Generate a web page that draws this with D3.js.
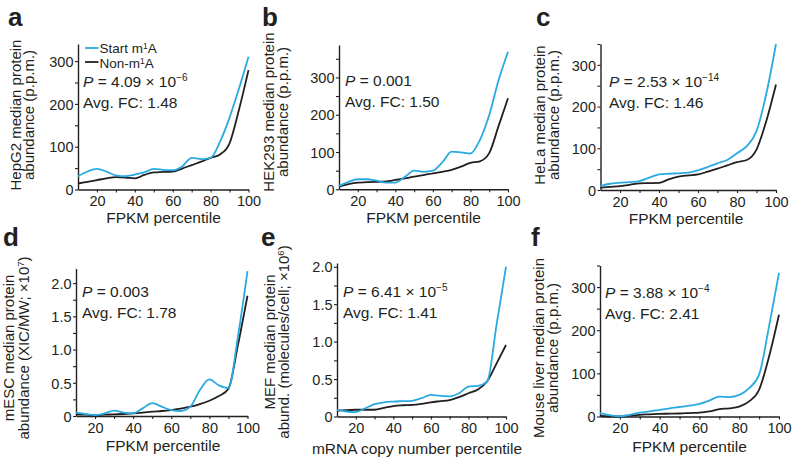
<!DOCTYPE html>
<html><head><meta charset="utf-8">
<script src="https://cdn.jsdelivr.net/npm/d3@7/dist/d3.min.js"></script>
<style>
body{margin:0;background:#fff}
svg{display:block}
text{font-family:"Liberation Sans",Arial,Helvetica,sans-serif;fill:#231f20}
</style>
</head><body>
<svg id="chart" width="800" height="466"></svg>
<script>
// ---------- DATA ----------
const percentiles = [10,15,20,25,30,35,40,45,50,55,60,65,70,75,80,85,90,95,100];

const hepg2Start = [31,42,48,42,33,31,35,40,48,46,45,54,74,71,74,112,168,236,310];
const hepg2Non   = [14,18,22,26,29,28,26,34,40,41,42,49,57,65,74,82,108,187,279];

const hek293Start = [9,20,27,27,23,18,18,33,50,47,50,72,101,99,96,132,199,293,369];
const hek293Non   = [7,14,18,19,20,21,25,29,34,38,43,47,52,61,71,75,97,170,244];

const helaStart = [9.5,15,17.5,19,21.5,29.5,37.5,39,40,41.5,47,55,64,72,88,105,141,230,350];
const helaNon   = [5.5,7.5,9.5,12.5,16,16.5,17,25.5,32,35,37.5,44,51,59,67,72,97,165,253];

const mescStart = [0.05,0.03,0.015,0.04,0.08,0.05,0.04,0.115,0.195,0.14,0.09,0.075,0.14,0.39,0.55,0.46,0.42,1.2,2.18];
const mescNon   = [0.025,0.02,0.015,0.02,0.025,0.03,0.04,0.05,0.065,0.075,0.09,0.11,0.14,0.18,0.23,0.30,0.41,1.07,1.81];

const mefStart = [0.09,0.067,0.058,0.11,0.165,0.19,0.20,0.205,0.21,0.245,0.29,0.275,0.27,0.31,0.40,0.41,0.47,1.23,2.0];
const mefNon   = [0.08,0.085,0.09,0.09,0.09,0.115,0.14,0.15,0.155,0.17,0.19,0.205,0.22,0.26,0.31,0.36,0.47,0.71,0.955];

const liverStart = [7.7,3,0.5,4,9,12,15.5,19,22,25,29,37,46,45,50,66,97,209,333];
const liverNon   = [1.5,0.5,0,2,4,5,6,6.5,7,8,9,12,17,19,23,35,62,139,236];

const panelLetters = ["a","b","c","d","e","f"];
const yTitles = [
  ["HepG2 median protein", "abundance (p.p.m.)"],
  ["HEK293 median protein", "abundance (p.p.m.)"],
  ["HeLa median protein", "abundance (p.p.m.)"],
  ["mESC median protein", "abundance (XIC/MW; ×10|7|)"],
  ["MEF median protein", "abund. (molecules/cell; ×10|6|)"],
  ["Mouse liver median protein", "abundance (p.p.m.)"]
];
const xTitles = ["FPKM percentile","FPKM percentile","FPKM percentile","FPKM percentile","mRNA copy number percentile","FPKM percentile"];
const pValues = [["4.09 × 10","−6"],["0.001",""],["2.53 × 10","−14"],["0.003",""],["6.41 × 10","−5"],["3.88 × 10","−4"]];
const avgFC = ["1.48","1.50","1.46","1.78","1.41","2.41"];
const xTickLabels = [20,40,60,80,100];
const xTickMarks = [20,30,40,50,60,70,80,90,100];
const ppmTicks = [0,50,100,150,200,250,300,350];
const ppmLabels = [0,100,200,300];
const relTicks = [0,0.25,0.5,0.75,1,1.25,1.5,1.75,2];
const relLabels = [0,0.5,1,1.5,2];
const legendLabels = ["Start m|1|A","Non-m|1|A"];

// ---------- LAYOUT ----------
const BLUE = "#29abe2", BLACK = "#231f20";
const layout = [
  {x0:78,  x1:248.5, yt:44,   yb:189.5, ymax:340,  ly1:20.7, ly2:34,   lyc:115, tx:163.5, ty:222.5, lbl:[8,26],   pt:[83,87]},
  {x0:339, x1:508,   yt:45,   yb:189.3, ymax:387,  ly1:274,  ly2:288,  lyc:112, tx:423.5, ty:222.5, lbl:[262,26], pt:[345,86]},
  {x0:600.5,x1:776,  yt:44,   yb:190,   ymax:350,  ly1:545,  ly2:558.5,lyc:115, tx:686,   ty:223.5, lbl:[536,26], pt:[609,87]},
  {x0:76,  x1:247.5, yt:268.5,yb:416,   ymax:2.22, ly1:14,   ly2:28.5, lyc:348, tx:163,   ty:451,   lbl:[3,246],  pt:[82,297]},
  {x0:337, x1:506,   yt:263,  yb:416.5, ymax:2.05, ly1:275,  ly2:289,  lyc:342, tx:417,   ty:454,   lbl:[261,246], pt:[343,297]},
  {x0:600, x1:779,   yt:265.5,yb:416.5, ymax:350,  ly1:544,  ly2:558,  lyc:348, tx:689.5, ty:451.5, lbl:[531,246], pt:[605,298]}
];
const seriesStart = [hepg2Start, hek293Start, helaStart, mescStart, mefStart, liverStart];
const seriesNon = [hepg2Non, hek293Non, helaNon, mescNon, mefNon, liverNon];

const svg = d3.select("#chart");

function richText(sel, str, supSize, shift){
  // segments separated by | alternate normal / superscript
  const parts = str.split("|");
  parts.forEach((p,i)=>{
    if(!p) return;
    const t = sel.append("tspan").text(p);
    if(i%2===1){ t.attr("font-size", supSize).attr("dy", -shift); }
    else if(i>0){ t.attr("dy", shift); }
  });
}

layout.forEach((L,i)=>{
  const g = svg.append("g");
  const x = d3.scaleLinear().domain([10,100]).range([L.x0, L.x1]);
  const y = d3.scaleLinear().domain([0, L.ymax]).range([L.yb, L.yt]);
  const isRel = i===3 || i===4;

  // axes
  const ax = d3.axisBottom(x).tickValues(xTickMarks).tickSize(3).tickSizeOuter(0).tickPadding(3)
      .tickFormat(d => xTickLabels.includes(d) ? d : "");
  const gx = g.append("g").attr("transform",`translate(0,${L.yb})`).call(ax);
  gx.selectAll("text").attr("font-size",14.5).attr("dy",null).attr("y",16.5);

  const ay = d3.axisLeft(y).tickValues(isRel ? relTicks : ppmTicks.filter(v=>v<=L.ymax))
      .tickSize(3).tickSizeOuter(0).tickPadding(1.5)
      .tickFormat(d => (isRel ? relLabels : ppmLabels).includes(d) ? (isRel && d!==0 ? d.toFixed(1) : d) : "");
  const gy = g.append("g").attr("transform",`translate(${L.x0},0)`).call(ay);
  gy.selectAll("text").attr("font-size",14.5).attr("dy","0.36em");

  [gx,gy].forEach(a=>{
    a.attr("font-family",null);
    a.select(".domain").attr("stroke",BLACK).attr("stroke-width",1.4);
    a.selectAll(".tick line").attr("stroke",BLACK).attr("stroke-width",1.1);
    a.selectAll(".tick text").attr("fill",BLACK);
  });

  // lines
  const line = d3.line().x((d,k)=>x(percentiles[k])).y(d=>y(d)).curve(d3.curveMonotoneX);
  g.append("path").attr("d", line(seriesNon[i])).attr("fill","none").attr("stroke",BLACK).attr("stroke-width",1.8);
  g.append("path").attr("d", line(seriesStart[i])).attr("fill","none").attr("stroke",BLUE).attr("stroke-width",1.8);

  // panel letter
  g.append("text").attr("x",L.lbl[0]).attr("y",L.lbl[1]).attr("font-size",26).attr("font-weight","bold").text(panelLetters[i]);

  // y titles
  [[L.ly1,yTitles[i][0]],[L.ly2,yTitles[i][1]]].forEach(([bx,str])=>{
    const t = g.append("text").attr("transform",`translate(${bx},${L.lyc}) rotate(-90)`)
      .attr("text-anchor","middle").attr("font-size",15);
    richText(t,str,9.5,5);
  });

  // x title
  g.append("text").attr("x",L.tx).attr("y", L.ty).attr("text-anchor","middle")
    .attr("font-size",15.5).text(xTitles[i]);

  // stats
  const pt = g.append("text").attr("x",L.pt[0]).attr("y",L.pt[1]).attr("font-size",15.5);
  pt.append("tspan").attr("font-style","italic").text("P");
  pt.append("tspan").text(" = " + pValues[i][0]);
  if(pValues[i][1]) pt.append("tspan").attr("font-size",10).attr("dy",-6).text(pValues[i][1]);
  g.append("text").attr("x",L.pt[0]).attr("y",L.pt[1]+20.5).attr("font-size",15.5).text("Avg. FC: " + avgFC[i]);

  // legend (panel a only)
  if(i===0){
    const lg = [[BLUE,48,53],[BLACK,62,68]];
    lg.forEach(([c,ly,ty],k)=>{
      g.append("line").attr("x1",85).attr("x2",98.5).attr("y1",ly).attr("y2",ly).attr("stroke",c).attr("stroke-width",1.8);
      const t = g.append("text").attr("x",99.5).attr("y",ty).attr("font-size",13.5);
      richText(t, legendLabels[k], 8.5, 4.5);
    });
  }
});
</script>
</body></html>
